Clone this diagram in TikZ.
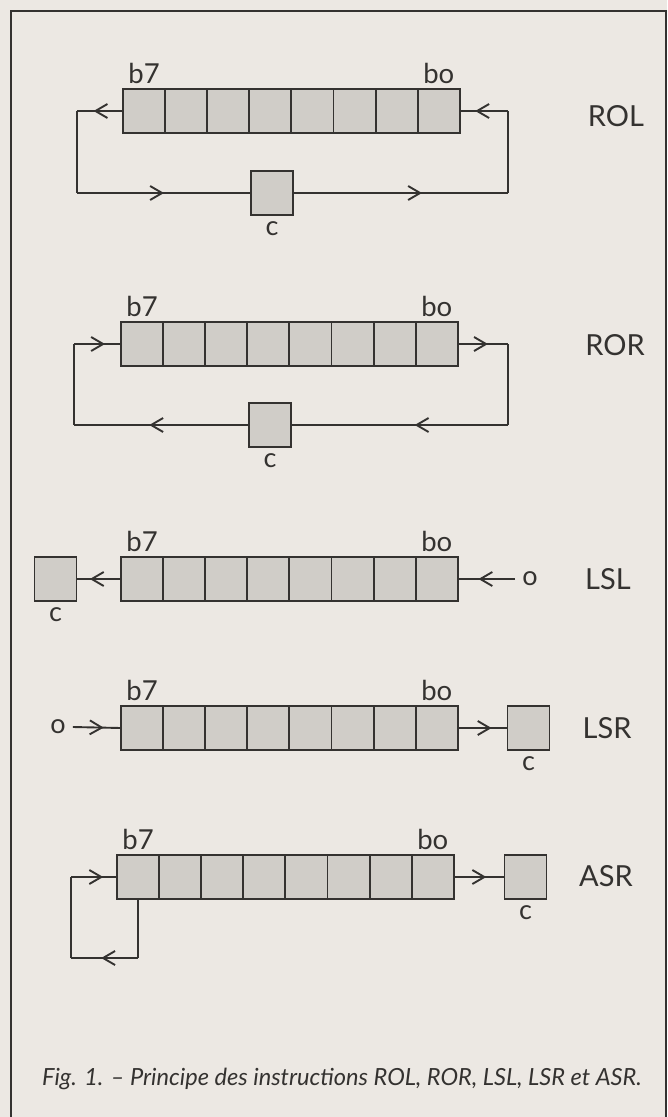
\documentclass[tikz,border=0pt]{standalone}
\usepackage{fontspec}
\setmainfont{Lato}
\usetikzlibrary{decorations.markings,arrows.meta}
\definecolor{paper}{RGB}{236,232,227}
\definecolor{ink}{RGB}{52,50,48}
\definecolor{cellfill}{RGB}{208,205,200}
\tikzset{
  cell/.style={draw=ink, fill=cellfill, line width=1.9pt, minimum width=42.1pt, minimum height=44pt, inner sep=0pt, outer sep=0pt},
  carry/.style={draw=ink, fill=cellfill, line width=1.9pt, minimum width=42pt, minimum height=44pt, inner sep=0pt, outer sep=0pt},
  bitlbl/.style={text=ink, font=\fontsize{27.5}{27.5}\selectfont, inner sep=0pt, anchor=base},
  clbl/.style={text=ink, font=\fontsize{27}{27}\selectfont, inner sep=0pt, anchor=base},
  oplbl/.style={text=ink, font=\fontsize{29}{29}\selectfont, inner sep=0pt},
  zlbl/.style={text=ink, font=\fontsize{27}{27}\selectfont, inner ysep=0pt, inner xsep=7pt},
  conn/.style={color=ink, line width=1.9pt},
  midarrow/.style={conn, postaction={decorate}, decoration={markings, mark=at position #1 with {\arrow{Straight Barb[length=12pt,width=14pt,line width=1.9pt]}}}},
  midarrow/.default=0.5,
  frame/.style={color=ink, line width=2.4pt},
  captionstyle/.style={text=ink, font=\fontsize{23.6}{23.6}\selectfont\itshape, inner sep=0pt, anchor=base west}
}
\newcommand\drawreg[3]{%
  \foreach \k in {0,...,7}{\node[cell] (#1-\k) at ({#2+21.05+42.1*(7-\k)},#3) {};}%
  \node[bitlbl] (#1-lb7) at ([yshift=6pt]#1-7.north) {b7};%
  \node[bitlbl] (#1-lb0) at ([yshift=6pt]#1-0.north) {bo};%
}
\begin{document}
\begin{tikzpicture}[x=1pt,y=-1pt]
\fill[paper] (0,0) rectangle (667,1117);
\useasboundingbox (0,0) rectangle (667,1117);
% frame
\draw[frame] (667,11) -- (11,11) -- (11,1117);
\draw[frame, line width=1.6pt] (665.8,11) -- (665.8,1117);

% ---------- ROL ----------
\drawreg{rol}{123}{111}
\node[carry] (rol-c) at (272,193) {};
\node[clbl] (rol-cl) at ([yshift=-20pt]rol-c.south) {c};
\node[oplbl] (rol-op) at (616,116) {ROL};
\coordinate (rol-L) at (77,111);
\coordinate (rol-B) at (77,193);
\coordinate (rol-R) at (508,193);
\coordinate (rol-T) at (508,111);
\draw[midarrow=0.64] (rol-7.west) -- (rol-L);
\draw[conn] (rol-L) -- (rol-B);
\draw[midarrow=0.5] (rol-B) -- (rol-c.west);
\draw[midarrow=0.6] (rol-c.east) -- (rol-R);
\draw[conn] (rol-R) -- (rol-T);
\draw[midarrow=0.68] (rol-T) -- (rol-0.east);

% ---------- ROR ----------
\drawreg{ror}{121}{344}
\node[carry] (ror-c) at (270,425) {};
\node[clbl] (ror-cl) at ([yshift=-20pt]ror-c.south) {c};
\node[oplbl] (ror-op) at (615,345) {ROR};
\coordinate (ror-L) at (74,344);
\coordinate (ror-B) at (74,425);
\coordinate (ror-R) at (508,425);
\coordinate (ror-T) at (508,344);
\draw[midarrow=0.66] (ror-L) -- (ror-7.west);
\draw[conn] (ror-L) -- (ror-B);
\draw[midarrow=0.57] (ror-c.west) -- (ror-B);
\draw[midarrow=0.43] (ror-R) -- (ror-c.east);
\draw[conn] (ror-R) -- (ror-T);
\draw[midarrow=0.6] (ror-0.east) -- (ror-T);

% ---------- LSL ----------
\drawreg{lsl}{121}{579}
\node[carry] (lsl-c) at (55.5,579) {};
\node[clbl] (lsl-cl) at ([yshift=-20pt]lsl-c.south) {c};
\node[zlbl] (lsl-o) at (530,579) {o};
\node[oplbl] (lsl-op) at (608,579) {LSL};
\draw[midarrow=0.7] (lsl-7.west) -- (lsl-c.east);
\draw[midarrow=0.64] (lsl-o.west) -- (lsl-0.east);

% ---------- LSR ----------
\drawreg{lsr}{121}{728}
\node[carry] (lsr-c) at (528.5,728) {};
\node[clbl] (lsr-cl) at ([yshift=-20pt]lsr-c.south) {c};
\node[zlbl] (lsr-o) at (58,727) {o};
\node[oplbl] (lsr-op) at (607,728) {LSR};
\draw[midarrow=0.64] (lsr-o.east) -- (lsr-7.west);
\draw[midarrow=0.68] (lsr-0.east) -- (lsr-c.west);

% ---------- ASR ----------
\drawreg{asr}{117}{877}
\node[carry] (asr-c) at (525.5,877) {};
\node[clbl] (asr-cl) at ([yshift=-20pt]asr-c.south) {c};
\node[oplbl] (asr-op) at (606,876) {ASR};
\coordinate (asr-B) at (138.05,958);
\coordinate (asr-L) at (71,958);
\coordinate (asr-T) at (71,877);
\draw[midarrow=0.64] (asr-0.east) -- (asr-c.west);
\draw[conn] (asr-7.south) -- (asr-B);
\draw[midarrow=0.55] (asr-B) -- (asr-L);
\draw[conn] (asr-L) -- (asr-T);
\draw[midarrow=0.7] (asr-T) -- (asr-7.west);

% caption
\node[captionstyle] (caption) at (42,1085) {Fig. 1. – Principe des instructions ROL, ROR, LSL, LSR et ASR.};
\end{tikzpicture}
\end{document}
